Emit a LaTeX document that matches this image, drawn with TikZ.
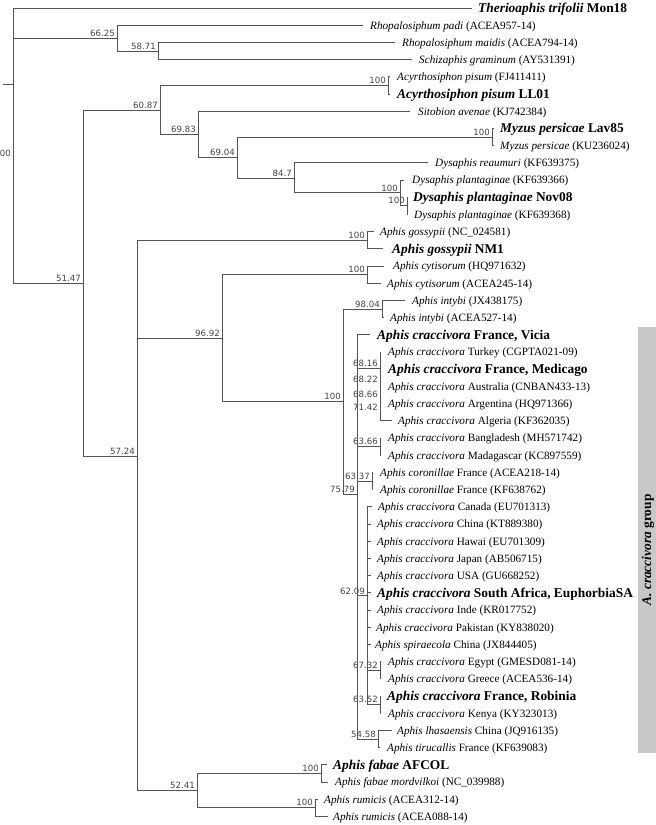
\documentclass[tikz,border=0pt]{standalone}
\usepackage{fontspec}
\setmainfont{Liberation Serif}
\newfontfamily\labfont{DejaVu Sans}
\definecolor{ln}{HTML}{555555}
\definecolor{lb}{HTML}{444444}
\definecolor{grpbox}{HTML}{C8C8C8}
\tikzset{
  br/.style={draw=ln, line width=0.9pt},
  tx/.style={anchor=base west, inner sep=0pt, yshift=-3.8pt, font=\fontsize{11.2}{13}\selectfont},
  bt/.style={anchor=base west, inner sep=0pt, yshift=-4.4pt, font=\fontsize{13.4}{15}\selectfont\bfseries},
  bs/.style={anchor=south east, inner sep=0pt, xshift=-2pt, yshift=1.5pt, text=lb, font=\labfont\fontsize{8.6}{9}\selectfont},
}
\begin{document}
\begin{tikzpicture}[x=1pt,y=-1pt]
\useasboundingbox (0,0) rectangle (656,825);
% group box
\fill[grpbox] (638,327) rectangle (656,753);
\node[rotate=90, inner sep=0pt, font=\fontsize{13.4}{15}\selectfont\bfseries] (grp) at (648,550) {\textit{A. craccivora} group};
% tips
\coordinate (t1) at (472,8);      \node[bt] (n1) at (478,8) {\textit{Therioaphis trifolii} Mon18};
\coordinate (t2) at (363,25.2);   \node[tx] (n2) at (370,25.2) {\textit{Rhopalosiphum padi} (ACEA957-14)};
\coordinate (t3) at (395,42.4);   \node[tx] (n3) at (402,42.4) {\textit{Rhopalosiphum maidis} (ACEA794-14)};
\coordinate (t4) at (412,59.6);   \node[tx] (n4) at (419,59.6) {\textit{Schizaphis graminum} (AY531391)};
\coordinate (t5) at (390,76.8);   \node[tx] (n5) at (397,76.8) {\textit{Acyrthosiphon pisum} (FJ411411)};
\coordinate (t6) at (390,94);     \node[bt] (n6) at (397,94) {\textit{Acyrthosiphon pisum} LL01};
\coordinate (t7) at (410,111.2);  \node[tx] (n7) at (418,111.2) {\textit{Sitobion avenae} (KJ742384)};
\coordinate (t8) at (494,128.4);  \node[bt] (n8) at (500,128.4) {\textit{Myzus persicae} Lav85};
\coordinate (t9) at (494,145.6);  \node[tx] (n9) at (500,145.6) {\textit{Myzus persicae} (KU236024)};
\coordinate (t10) at (428,162.8); \node[tx] (n10) at (435,162.8) {\textit{Dysaphis reaumuri} (KF639375)};
\coordinate (t11) at (404,180);   \node[tx] (n11) at (412,180) {\textit{Dysaphis plantaginae} (KF639366)};
\coordinate (t12) at (408,197.2); \node[bt] (n12) at (413,197.2) {\textit{Dysaphis plantaginae} Nov08};
\coordinate (t13) at (408,214.4); \node[tx] (n13) at (414,214.4) {\textit{Dysaphis plantaginae} (KF639368)};
\coordinate (t14) at (374,231.6); \node[tx] (n14) at (380,231.6) {\textit{Aphis gossypii} (NC\_024581)};
\coordinate (t15) at (383,248.8); \node[bt] (n15) at (392,248.8) {\textit{Aphis gossypii} NM1};
\coordinate (t16) at (384,266);   \node[tx] (n16) at (393,266) {\textit{Aphis cytisorum} (HQ971632)};
\coordinate (t17) at (381,283.2); \node[tx] (n17) at (387,283.2) {\textit{Aphis cytisorum} (ACEA245-14)};
\coordinate (t18) at (405,300.4); \node[tx] (n18) at (412,300.4) {\textit{Aphis intybi} (JX438175)};
\coordinate (t19) at (384,317.6); \node[tx] (n19) at (390,317.6) {\textit{Aphis intybi} (ACEA527-14)};
\coordinate (t20) at (370,334.8); \node[bt] (n20) at (377,334.8) {\textit{Aphis craccivora} France, Vicia};
\coordinate (t21) at (381,352);   \node[tx] (n21) at (388,352) {\textit{Aphis craccivora} Turkey (CGPTA021-09)};
\coordinate (t22) at (381,369.2); \node[bt] (n22) at (388,369.2) {\textit{Aphis craccivora} France, Medicago};
\coordinate (t23) at (381,386.4); \node[tx] (n23) at (388,386.4) {\textit{Aphis craccivora} Australia (CNBAN433-13)};
\coordinate (t24) at (381,403.6); \node[tx] (n24) at (388,403.6) {\textit{Aphis craccivora} Argentina (HQ971366)};
\coordinate (t25) at (392,420.8); \node[tx] (n25) at (398,420.8) {\textit{Aphis craccivora} Algeria (KF362035)};
\coordinate (t26) at (381,438);   \node[tx] (n26) at (388,438) {\textit{Aphis craccivora} Bangladesh (MH571742)};
\coordinate (t27) at (381,455.2); \node[tx] (n27) at (388,455.2) {\textit{Aphis craccivora} Madagascar (KC897559)};
\coordinate (t28) at (373,472.4); \node[tx] (n28) at (380,472.4) {\textit{Aphis coronillae} France (ACEA218-14)};
\coordinate (t29) at (373,489.6); \node[tx] (n29) at (380,489.6) {\textit{Aphis coronillae} France (KF638762)};
\coordinate (t30) at (372,506.8); \node[tx] (n30) at (378,506.8) {\textit{Aphis craccivora} Canada (EU701313)};
\coordinate (t31) at (371,524);   \node[tx] (n31) at (377,524) {\textit{Aphis craccivora} China (KT889380)};
\coordinate (t32) at (371,541.2); \node[tx] (n32) at (377,541.2) {\textit{Aphis craccivora} Hawai (EU701309)};
\coordinate (t33) at (371,558.4); \node[tx] (n33) at (377,558.4) {\textit{Aphis craccivora} Japan (AB506715)};
\coordinate (t34) at (371,575.6); \node[tx] (n34) at (377,575.6) {\textit{Aphis craccivora} USA (GU668252)};
\coordinate (t35) at (371,592.8); \node[bt] (n35) at (377,592.8) {\textit{Aphis craccivora} South Africa, EuphorbiaSA};
\coordinate (t36) at (371,610);   \node[tx] (n36) at (377,610) {\textit{Aphis craccivora} Inde (KR017752)};
\coordinate (t37) at (371,627.2); \node[tx] (n37) at (376,627.2) {\textit{Aphis craccivora} Pakistan (KY838020)};
\coordinate (t38) at (371,644.4); \node[tx] (n38) at (375,644.4) {\textit{Aphis spiraecola} China (JX844405)};
\coordinate (t39) at (381,661.6); \node[tx] (n39) at (388,661.6) {\textit{Aphis craccivora} Egypt (GMESD081-14)};
\coordinate (t40) at (381,678.8); \node[tx] (n40) at (388,678.8) {\textit{Aphis craccivora} Greece (ACEA536-14)};
\coordinate (t41) at (381,696);   \node[bt] (n41) at (387,696) {\textit{Aphis craccivora} France, Robinia};
\coordinate (t42) at (381,713.2); \node[tx] (n42) at (388,713.2) {\textit{Aphis craccivora} Kenya (KY323013)};
\coordinate (t43) at (392,730.4); \node[tx] (n43) at (397,730.4) {\textit{Aphis lhasaensis} China (JQ916135)};
\coordinate (t44) at (380,747.6); \node[tx] (n44) at (387,747.6) {\textit{Aphis tirucallis} France (KF639083)};
\coordinate (t45) at (327,764.8); \node[bt] (n45) at (333,764.8) {\textit{Aphis fabae} AFCOL};
\coordinate (t46) at (328,782);   \node[tx] (n46) at (335,782) {\textit{Aphis fabae mordvilkoi} (NC\_039988)};
\coordinate (t47) at (318,799.2); \node[tx] (n47) at (324,799.2) {\textit{Aphis rumicis} (ACEA312-14)};
\coordinate (t48) at (328,816.4); \node[tx] (n48) at (333,816.4) {\textit{Aphis rumicis} (ACEA088-14)};
% internal nodes
\coordinate (R0) at (3,84);
\coordinate (R) at (13,84);
\coordinate (A) at (117,38.6);
\coordinate (B) at (158,51);
\coordinate (C) at (83,283);
\coordinate (D) at (160,110.2);
\coordinate (P1) at (388,85.4);
\coordinate (E) at (198,134.5);
\coordinate (F) at (237,157.7);
\coordinate (My) at (492,137);
\coordinate (G) at (294,178);
\coordinate (Dy) at (400,192.9);
\coordinate (Di) at (407,205.8);
\coordinate (H) at (137,456.4);
\coordinate (Go) at (367,240.2);
\coordinate (J) at (222,338.5);
\coordinate (Cy) at (367,274.6);
\coordinate (K) at (343,401.7);
\coordinate (N98) at (382,309);
\coordinate (L) at (357,494.4);
\coordinate (M1) at (380,368.1);
\coordinate (M2) at (380,384.25);
\coordinate (M3) at (380,399.3);
\coordinate (M4) at (380,412.2);
\coordinate (Ba) at (380,446.6);
\coordinate (Co) at (372,481);
\coordinate (S) at (367,595.9);
\coordinate (Eg) at (380,670.2);
\coordinate (Ro) at (380,704.6);
\coordinate (Lh) at (378,739);
\coordinate (Q) at (197,790.6);
\coordinate (Fa) at (321,773.4);
\coordinate (Ru) at (315,807.8);
% branches
\draw[br] (R0) -- (R);
\draw[br] (R |- t1) -- (R |- C);
\draw[br] (R |- t1) -- (t1); \draw[br] (R |- A) -- (A); \draw[br] (R |- C) -- (C);
\draw[br] (A |- t2) -- (A |- B); \draw[br] (A |- t2) -- (t2); \draw[br] (A |- B) -- (B);
\draw[br] (B |- t3) -- (B |- t4); \draw[br] (B |- t3) -- (t3); \draw[br] (B |- t4) -- (t4);
\draw[br] (C |- D) -- (C |- H); \draw[br] (C |- D) -- (D); \draw[br] (C |- H) -- (H);
\draw[br] (D |- P1) -- (D |- E); \draw[br] (D |- P1) -- (P1); \draw[br] (D |- E) -- (E);
\draw[br] (P1 |- t5) -- (P1 |- t6); \draw[br] (P1 |- t5) -- (t5); \draw[br] (P1 |- t6) -- (t6);
\draw[br] (E |- t7) -- (E |- F); \draw[br] (E |- t7) -- (t7); \draw[br] (E |- F) -- (F);
\draw[br] (F |- My) -- (F |- G); \draw[br] (F |- My) -- (My); \draw[br] (F |- G) -- (G);
\draw[br] (My |- t8) -- (My |- t9); \draw[br] (My |- t8) -- (t8); \draw[br] (My |- t9) -- (t9);
\draw[br] (G |- t10) -- (G |- Dy); \draw[br] (G |- t10) -- (t10); \draw[br] (G |- Dy) -- (Dy);
\draw[br] (Dy |- t11) -- (Dy |- Di); \draw[br] (Dy |- t11) -- (t11); \draw[br] (Dy |- Di) -- (Di);
\draw[br] (Di |- t12) -- (Di |- t13); \draw[br] (Di |- t12) -- (t12); \draw[br] (Di |- t13) -- (t13);
\draw[br] (H |- Go) -- (H |- Q); \draw[br] (H |- Go) -- (Go); \draw[br] (H |- J) -- (J); \draw[br] (H |- Q) -- (Q);
\draw[br] (Go |- t14) -- (Go |- t15); \draw[br] (Go |- t14) -- (t14); \draw[br] (Go |- t15) -- (t15);
\draw[br] (J |- Cy) -- (J |- K); \draw[br] (J |- Cy) -- (Cy); \draw[br] (J |- K) -- (K);
\draw[br] (Cy |- t16) -- (Cy |- t17); \draw[br] (Cy |- t16) -- (t16); \draw[br] (Cy |- t17) -- (t17);
\draw[br] (K |- N98) -- (K |- L); \draw[br] (K |- N98) -- (N98); \draw[br] (K |- L) -- (L);
\draw[br] (N98 |- t18) -- (N98 |- t19); \draw[br] (N98 |- t18) -- (t18); \draw[br] (N98 |- t19) -- (t19);
\draw[br] (L |- t20) -- (L |- Lh); \draw[br] (L |- t20) -- (t20);
\draw[br] (L |- M1) -- (M1); \draw[br] (L |- Ba) -- (Ba); \draw[br] (L |- Co) -- (Co);
\draw[br] (L |- S) -- (S); \draw[br] (L |- Lh) -- (Lh);
\draw[br] (M1 |- t21) -- (M1 |- M2); \draw[br] (M1 |- t21) -- (t21);
\draw[br] (M2 |- t22) -- (M2 |- M3); \draw[br] (M2 |- t22) -- (t22);
\draw[br] (M3 |- t23) -- (M3 |- M4); \draw[br] (M3 |- t23) -- (t23);
\draw[br] (M4 |- t24) -- (M4 |- t25); \draw[br] (M4 |- t24) -- (t24); \draw[br] (M4 |- t25) -- (t25);
\draw[br] (Ba |- t26) -- (Ba |- t27); \draw[br] (Ba |- t26) -- (t26); \draw[br] (Ba |- t27) -- (t27);
\draw[br] (Co |- t28) -- (Co |- t29); \draw[br] (Co |- t28) -- (t28); \draw[br] (Co |- t29) -- (t29);
\draw[br] (S |- t30) -- (S |- Ro);
\foreach \i in {30,...,38} {\draw[br] (S |- t\i) -- (t\i);}
\draw[br] (S |- Eg) -- (Eg); \draw[br] (S |- Ro) -- (Ro);
\draw[br] (Eg |- t39) -- (Eg |- t40); \draw[br] (Eg |- t39) -- (t39); \draw[br] (Eg |- t40) -- (t40);
\draw[br] (Ro |- t41) -- (Ro |- t42); \draw[br] (Ro |- t41) -- (t41); \draw[br] (Ro |- t42) -- (t42);
\draw[br] (Lh |- t43) -- (Lh |- t44); \draw[br] (Lh |- t43) -- (t43); \draw[br] (Lh |- t44) -- (t44);
\draw[br] (Q |- Fa) -- (Q |- Ru); \draw[br] (Q |- Fa) -- (Fa); \draw[br] (Q |- Ru) -- (Ru);
\draw[br] (Fa |- t45) -- (Fa |- t46); \draw[br] (Fa |- t45) -- (t45); \draw[br] (Fa |- t46) -- (t46);
\draw[br] (Ru |- t47) -- (Ru |- t48); \draw[br] (Ru |- t47) -- (t47); \draw[br] (Ru |- t48) -- (t48);
% support values
\node[bs] (lR) at (13,158) {100};
\node[bs] (lA) at (A) {66.25};
\node[bs] (lB) at (B) {58.71};
\node[bs] (lC) at (C) {51.47};
\node[bs] (lD) at (D) {60.87};
\node[bs] (lP1) at (P1) {100};
\node[bs] (lE) at (E) {69.83};
\node[bs] (lF) at (F) {69.04};
\node[bs] (lMy) at (My) {100};
\node[bs] (lG) at (G) {84.7};
\node[bs] (lDy) at (Dy) {100};
\node[bs] (lDi) at (Di) {100};
\node[bs] (lH) at (H) {57.24};
\node[bs] (lGo) at (Go) {100};
\node[bs] (lJ) at (J) {96.92};
\node[bs] (lCy) at (Cy) {100};
\node[bs] (lK) at (K) {100};
\node[bs] (lN98) at (N98) {98.04};
\node[bs] (lL) at (L) {75.79};
\node[bs] (lM1) at (M1) {68.16};
\node[bs] (lM2) at (M2) {68.22};
\node[bs] (lM3) at (M3) {68.66};
\node[bs] (lM4) at (M4) {71.42};
\node[bs] (lBa) at (Ba) {63.66};
\node[bs] (lCo) at (Co) {63.37};
\node[bs] (lS) at (S) {62.09};
\node[bs] (lEg) at (Eg) {67.32};
\node[bs] (lRo) at (Ro) {63.52};
\node[bs] (lLh) at (Lh) {54.58};
\node[bs] (lQ) at (Q) {52.41};
\node[bs] (lFa) at (Fa) {100};
\node[bs] (lRu) at (Ru) {100};
\end{tikzpicture}
\end{document}
